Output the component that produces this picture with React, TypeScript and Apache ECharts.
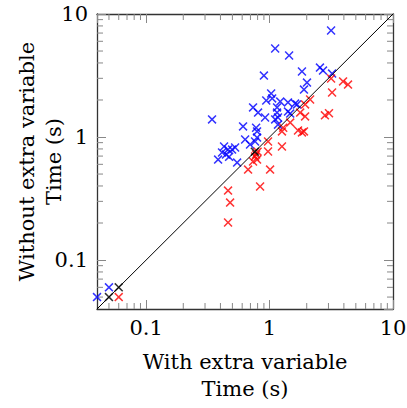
import React, { useEffect, useRef } from "react";
import * as echarts from "echarts";

// [with extra variable, without extra variable] times in seconds
const slowerWithout: number[][] = [
  [3.15, 7.34], [1.11, 5.24], [1.44, 4.6], [0.9, 3.16], [1.83, 3.41], [2.56, 3.67], [2.71, 3.47],
  [3.21, 3.28], [2.01, 2.77], [1.9, 2.43], [1.03, 2.26], [1.05, 2.06], [0.94, 1.98], [1.22, 1.94],
  [1.41, 1.91], [1.61, 1.87], [0.735, 1.74], [0.807, 1.58], [0.92, 1.44], [1.15, 1.74], [1.15, 1.58],
  [1.17, 1.44], [1.11, 1.39], [1.41, 1.61], [1.47, 1.55], [1.67, 1.84], [0.342, 1.39], [0.61, 1.22],
  [0.778, 1.19], [0.792, 1.11], [0.634, 0.955], [0.695, 0.869], [0.763, 0.919], [0.792, 0.99],
  [1.17, 1.26], [0.526, 0.822], [0.428, 0.837], [0.461, 0.791], [0.497, 0.791], [0.412, 0.748],
  [0.444, 0.721], [0.383, 0.656], [0.546, 0.62], [0.47, 0.69], [0.05, 0.06], [0.04, 0.05],
];
const slowerWith: number[][] = [
  [3.15, 2.99], [3.94, 2.83], [4.32, 2.67], [3.21, 2.3], [2.13, 2.02], [1.94, 1.84], [1.77, 1.58],
  [1.94, 1.47], [2.81, 1.5], [3.03, 1.56], [1.29, 1.19], [1.26, 1.11], [1.7, 1.13], [1.83, 1.09],
  [1.9, 1.11], [1.47, 1.31], [1.26, 0.837], [0.972, 0.919], [0.972, 0.762], [0.8, 0.76],
  [0.763, 0.694], [0.735, 0.632], [0.67, 0.544], [1.01, 0.544], [0.792, 0.656], [0.778, 0.721],
  [0.838, 0.396], [0.461, 0.367], [0.479, 0.293], [0.461, 0.202], [0.06, 0.05],
];
const equalTimes: number[][] = [[0.06, 0.06], [0.05, 0.05], [0.76, 0.76]];

const AXIS_MIN = 0.04;
const AXIS_MAX = 10;
const majorTicks = [0.1, 1, 10];
const minorTicks = [0.05, 0.06, 0.07, 0.08, 0.09, 0.2, 0.3, 0.4, 0.5, 0.6, 0.7, 0.8, 0.9, 2, 3, 4, 5, 6, 7, 8, 9];
const xTitle = "With extra variable\nTime (s)";
const yTitle = "Without extra variable\nTime (s)";

const FONT = "DejaVu Serif";
const CROSS = "path://M0,1.2L1.2,0L5,3.8L8.8,0L10,1.2L6.2,5L10,8.8L8.8,10L5,6.2L1.2,10L0,8.8L3.8,5Z";

const labelFmt = (v: number) => {
  const hit = majorTicks.find((m) => Math.abs(Math.log10(v) - Math.log10(m)) < 1e-6);
  return hit === undefined ? "" : String(hit);
};

export default function App() {
  const ref = useRef<HTMLDivElement>(null);
  useEffect(() => {
    if (!ref.current) return;
    const chart = echarts.init(ref.current, null, { renderer: "svg" });
    const axisLine = { show: true, lineStyle: { color: "#333", width: 1.3 } };
    const axisTick = { show: true, inside: true, length: 9, lineStyle: { color: "#888", width: 1 } };
    const tickStyle = { stroke: "#888", lineWidth: 1 };
    const baseAxis = {
      type: "log" as const,
      min: AXIS_MIN,
      max: AXIS_MAX,
      logBase: 10,
      splitLine: { show: false },
      axisLine,
      axisTick,
    };
    chart.setOption({
      animation: false,
      grid: { left: 97, right: 14, top: 14, bottom: 99, containLabel: false, outerBoundsMode: "none" },
      xAxis: [
        {
          ...baseAxis,
          position: "bottom",
          axisLabel: { show: true, formatter: labelFmt, margin: 8, fontFamily: FONT, fontSize: 21, color: "#000", showMinLabel: false },
          name: xTitle,
          nameLocation: "middle",
          nameGap: 39,
          nameMoveOverlap: false,
          nameTextStyle: { fontFamily: FONT, fontSize: 21, color: "#000", lineHeight: 27 },
        },
        { ...baseAxis, position: "top", axisLabel: { show: false } },
      ],
      yAxis: [
        {
          ...baseAxis,
          position: "left",
          axisLabel: { show: true, formatter: labelFmt, margin: 9, fontFamily: FONT, fontSize: 21, color: "#000", showMinLabel: false },
          name: yTitle,
          nameLocation: "middle",
          nameRotate: 90,
          nameGap: 30,
          nameMoveOverlap: false,
          nameTextStyle: { fontFamily: FONT, fontSize: 21, color: "#000", lineHeight: 27 },
        },
        { ...baseAxis, position: "right", axisLabel: { show: false } },
      ],
      series: [
        {
          type: "custom",
          silent: true,
          clip: false,
          data: minorTicks.map((v) => [v, 1]),
          renderItem: (_p: any, api: any) => {
            const v = api.value(0);
            const b = api.coord([v, AXIS_MIN]);
            const t = api.coord([v, AXIS_MAX]);
            return {
              type: "group",
              children: [
                { type: "line", shape: { x1: b[0], y1: b[1], x2: b[0], y2: b[1] - 6 }, style: tickStyle },
                { type: "line", shape: { x1: t[0], y1: t[1], x2: t[0], y2: t[1] + 6 }, style: tickStyle },
              ],
            };
          },
        },
        {
          type: "custom",
          silent: true,
          clip: false,
          data: minorTicks.map((v) => [1, v]),
          renderItem: (_p: any, api: any) => {
            const v = api.value(1);
            const l = api.coord([AXIS_MIN, v]);
            const r = api.coord([AXIS_MAX, v]);
            return {
              type: "group",
              children: [
                { type: "line", shape: { x1: l[0], y1: l[1], x2: l[0] + 6, y2: l[1] }, style: tickStyle },
                { type: "line", shape: { x1: r[0], y1: r[1], x2: r[0] - 6, y2: r[1] }, style: tickStyle },
              ],
            };
          },
        },
        {
          type: "scatter",
          data: slowerWithout,
          symbol: CROSS,
          symbolSize: 9,
          itemStyle: { color: "#0000ff" },
        },
        {
          type: "scatter",
          data: slowerWith,
          symbol: CROSS,
          symbolSize: 9,
          itemStyle: { color: "#ff0000" },
        },
        {
          type: "scatter",
          data: equalTimes,
          symbol: CROSS,
          symbolSize: 9,
          itemStyle: { color: "#000000" },
        },
        {
          type: "line",
          data: [[AXIS_MIN, AXIS_MIN], [AXIS_MAX, AXIS_MAX]],
          symbol: "none",
          lineStyle: { color: "#000", width: 1 },
          z: 5,
        },
      ],
    });
    return () => chart.dispose();
  }, []);
  return <div ref={ref} style={{ position: "absolute", left: 0, top: 0, width: 407, height: 408 }} />;
}
